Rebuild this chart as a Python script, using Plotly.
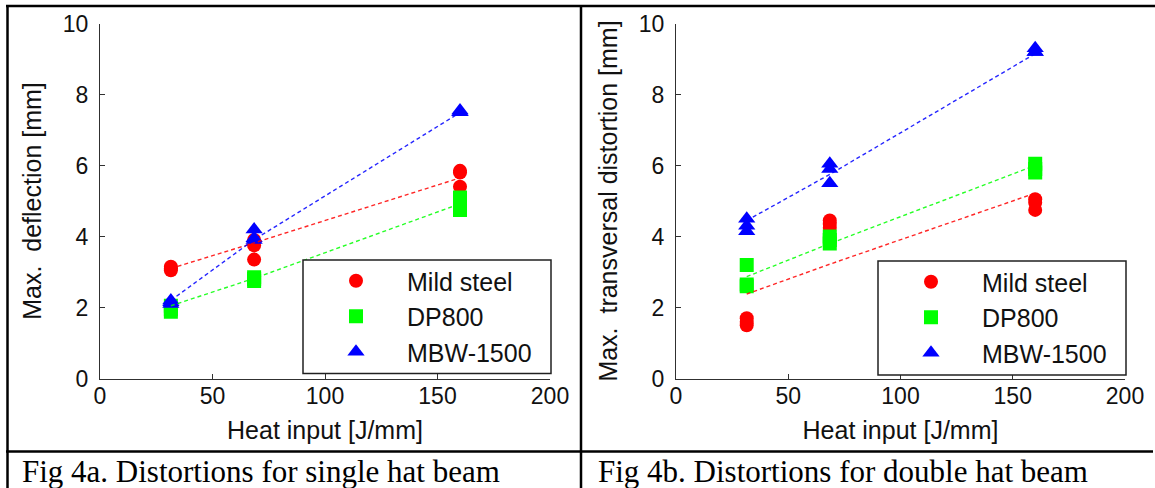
import plotly.graph_objects as go

# ---------------- data ----------------
heat_input = [31.5, 68.5, 160]
series = ["Mild steel", "DP800", "MBW-1500"]
colors = ["#ff0000", "#00ff00", "#0000ff"]
symbols = ["circle", "square", "triangle-up"]
marker_sizes = [14, 14, 15]

x_ticks = [0, 50, 100, 150, 200]
y_ticks = [0, 2, 4, 6, 8, 10]

# Fig 4a: single hat beam, max. deflection [mm] (replicates per heat input)
a_mild = [[3.15, 3.1, 3.05], [3.9, 3.75, 3.35], [5.85, 5.8, 5.4]]
a_dp800 = [[1.88, 1.95, 2.05], [2.75, 2.8, 2.85], [5.1, 4.9, 4.75]]
a_mbw = [[2.2, 2.15, 2.1], [4.2, 3.95, 3.9], [7.55, 7.5, 7.5]]
a_mild_trend = [3.1, 3.82, 5.65]
a_dp800_trend = [2.05, 2.82, 4.92]
a_mbw_trend = [2.2, 3.91, 7.49]

# Fig 4b: double hat beam, max. transversal distortion [mm]
b_mild = [[1.7, 1.6, 1.5], [4.45, 4.35, 4.25], [5.05, 4.95, 4.75]]
b_dp800 = [[3.2, 2.65, 2.6], [4.0, 3.9, 3.8], [6.05, 5.9, 5.8]]
b_mbw = [[4.5, 4.3, 4.15], [6.05, 5.9, 5.5], [9.3, 9.2, 9.2]]
b_mild_trend = [2.38, 3.22, 5.22]
b_dp800_trend = [2.87, 3.8, 6.0]
b_mbw_trend = [4.45, 5.75, 9.15]

x_title = "Heat input [J/mm]"
a_y_title = "Max.\u00a0 deflection [mm]"
b_y_title = "Max.\u00a0 transversal distortion [mm]"
a_caption = "Fig 4a. Distortions for single hat beam"
b_caption = "Fig 4b. Distortions for double hat beam"

# ---------------- figure ----------------
W, H = 1155, 488
SANS = "Liberation Sans, Arial, sans-serif"
SERIF = "Liberation Serif, Times New Roman, serif"
AX = "#303030"
TXT = "#111111"


def px(x):
    return x / W


def py(y):
    return 1 - y / H


fig = go.Figure()

panels = [
    ("x", "y", "legend", [a_mild, a_dp800, a_mbw], [a_mild_trend, a_dp800_trend, a_mbw_trend]),
    ("x2", "y2", "legend2", [b_mild, b_dp800, b_mbw], [b_mild_trend, b_dp800_trend, b_mbw_trend]),
]

for xa, ya, leg, groups, trends in panels:
    for i, name in enumerate(series):
        xs, ys = [], []
        for hx, reps in zip(heat_input, groups[i]):
            for v in reps:
                xs.append(hx)
                ys.append(v)
        fig.add_trace(go.Scatter(
            x=xs, y=ys, mode="markers", name=name, xaxis=xa, yaxis=ya,
            legend=leg,
            marker=dict(symbol=symbols[i], size=marker_sizes[i], color=colors[i],
                        line=dict(width=0)),
        ))
    for i, name in enumerate(series):
        fig.add_trace(go.Scatter(
            x=heat_input, y=trends[i], mode="lines", xaxis=xa, yaxis=ya,
            showlegend=False, hoverinfo="skip",
            line=dict(color=colors[i], width=1.4, dash="4px,3px"),
            opacity=0.85,
        ))

axis_common = dict(
    showgrid=False, zeroline=False, showline=True, linecolor=AX, linewidth=1,
    ticks="inside", ticklen=5, tickcolor=AX, tickwidth=1, automargin=False,
    tickfont=dict(family=SANS, size=23, color=TXT),
)

xdom_a = [px(100), px(550)]
xdom_b = [px(676), px(1125)]
ydom = [py(378.5), py(23.5)]

fig.update_layout(
    width=W, height=H,
    margin=dict(l=0, r=0, t=0, b=0, autoexpand=False),
    paper_bgcolor="white", plot_bgcolor="white",
    xaxis=dict(domain=xdom_a, range=[0, 200], tickvals=x_ticks, anchor="y",
               ticklabelstandoff=-3,
               title=dict(text=x_title, font=dict(family=SANS, size=25, color=TXT), standoff=13),
               **axis_common),
    yaxis=dict(domain=ydom, range=[0, 10], tickvals=y_ticks, anchor="x",
               ticklabelstandoff=6,
               title=dict(text=a_y_title, font=dict(family=SANS, size=25, color=TXT), standoff=14),
               **axis_common),
    xaxis2=dict(domain=xdom_b, range=[0, 200], tickvals=x_ticks, anchor="y2",
                ticklabelstandoff=-3,
                title=dict(text=x_title, font=dict(family=SANS, size=25, color=TXT), standoff=13),
                **axis_common),
    yaxis2=dict(domain=ydom, range=[0, 10], tickvals=y_ticks, anchor="x2",
                ticklabelstandoff=6,
                title=dict(text=b_y_title, font=dict(family=SANS, size=25, color=TXT), standoff=14),
                **axis_common),
    legend=dict(x=px(305), xanchor="left", y=py(258), yanchor="top",
                xref="paper", yref="paper",
                bgcolor="rgba(0,0,0,0)", borderwidth=0,
                font=dict(family=SANS, size=25, color=TXT),
                itemwidth=92),
    legend2=dict(x=px(880), xanchor="left", y=py(259), yanchor="top",
                 xref="paper", yref="paper",
                 bgcolor="rgba(0,0,0,0)", borderwidth=0,
                 font=dict(family=SANS, size=25, color=TXT),
                 itemwidth=92),
    showlegend=True,
)

# legend boxes (drawn under the legend entries)
for (lx0, ly0, lx1, ly1) in [(303, 260, 551, 373.5), (878, 261, 1126, 375)]:
    fig.add_shape(type="rect", xref="paper", yref="paper", layer="above",
                  x0=px(lx0), y0=py(ly0), x1=px(lx1), y1=py(ly1),
                  line=dict(color="#202020", width=1.5), fillcolor="white")

# table borders
lw = 2.5
lines = [
    (6, 6, W, 6),        # top
    (7.5, 6, 7.5, H),    # left
    (581, 6, 581, H),    # middle
    (6, 451.5, 1153, 451.5),  # caption separator
]
for x0, y0, x1, y1 in lines:
    fig.add_shape(type="line", xref="paper", yref="paper",
                  x0=px(x0), y0=py(y0), x1=px(x1), y1=py(y1),
                  line=dict(color="black", width=lw))

# captions
for text, xpos in [(a_caption, 20), (b_caption, 596)]:
    fig.add_annotation(text=text, xref="paper", yref="paper",
                       x=px(xpos), xanchor="left", y=py(471), yanchor="middle",
                       showarrow=False, font=dict(family=SERIF, size=31, color="black"))

fig.write_html(
    "out.html",
    config={"displayModeBar": False, "staticPlot": True},
    post_script="document.body.style.margin='0px';document.body.style.overflow='hidden';",
)
